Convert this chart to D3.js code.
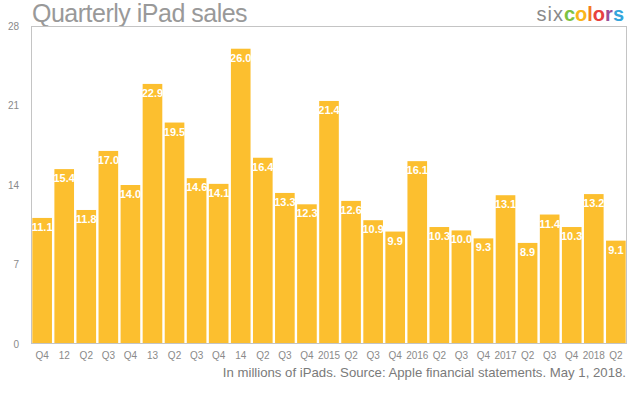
<!DOCTYPE html>
<html>
<head>
<meta charset="utf-8">
<script src="https://cdn.jsdelivr.net/npm/d3@7"></script>
<style>
  body { margin: 0; background: #fff; }
  svg { display: block; font-family: "Liberation Sans", Arial, sans-serif; }
</style>
</head>
<body>
<div id="chart"></div>
<script>
const width = 643;
const height = 397;

// Data
const quarters = ['Q4', '12', 'Q2', 'Q3', 'Q4', '13', 'Q2', 'Q3', 'Q4', '14', 'Q2', 'Q3', 'Q4', '2015',
  'Q2', 'Q3', 'Q4', '2016', 'Q2', 'Q3', 'Q4', '2017', 'Q2', 'Q3', 'Q4', '2018', 'Q2'];
const sales = [11.1, 15.4, 11.8, 17.0, 14.0, 22.9, 19.5, 14.6, 14.1, 26.0, 16.4, 13.3, 12.3, 21.4,
  12.6, 10.9, 9.9, 16.1, 10.3, 10.0, 9.3, 13.1, 8.9, 11.4, 10.3, 13.2, 9.1];
const yTicks = [0, 7, 14, 21, 28];
const logoLetters = ['c', 'o', 'l', 'o', 'r', 's'];
const logoColors = ['#7cc242', '#f9b61a', '#f47b20', '#e8403f', '#9b4f96', '#33a5dc'];

const margin = { top: 26, right: 16, bottom: 53, left: 31 };
const innerW = width - margin.left - margin.right;
const innerH = height - margin.top - margin.bottom;

const svg = d3.select('#chart').append('svg')
  .attr('width', width)
  .attr('height', height);

const data = quarters.map((q, i) => ({ i: i, label: q, value: sales[i] }));

const x = d3.scaleBand()
  .domain(data.map(d => d.i))
  .range([margin.left, margin.left + innerW])
  .paddingInner(0.11)
  .paddingOuter(0.06);

const y = d3.scaleLinear()
  .domain([0, 28])
  .range([margin.top + innerH, margin.top]);

// Title
svg.append('text')
  .attr('x', 32)
  .attr('y', 22)
  .attr('fill', '#999')
  .attr('font-size', 25)
  .attr('letter-spacing', -0.5)
  .text('Quarterly iPad sales');

// Logo
const logo = svg.append('text')
  .attr('x', 624)
  .attr('y', 21)
  .attr('text-anchor', 'end')
  .attr('font-size', 20);
logo.append('tspan')
  .attr('fill', '#8a8a8a')
  .attr('font-weight', 300)
  .attr('letter-spacing', 1)
  .text('six');
logoLetters.forEach((c, i) => {
  logo.append('tspan')
    .attr('fill', logoColors[i])
    .attr('font-weight', 'bold')
    .text(c);
});

// Bars
svg.append('g')
  .selectAll('rect')
  .data(data)
  .join('rect')
  .attr('x', d => x(d.i))
  .attr('y', d => y(d.value))
  .attr('width', x.bandwidth())
  .attr('height', d => y(0) - y(d.value))
  .attr('fill', '#fcbf2f');

// Value labels
svg.append('g')
  .selectAll('text')
  .data(data)
  .join('text')
  .attr('x', d => x(d.i) + x.bandwidth() / 2)
  .attr('y', d => y(d.value) + 13)
  .attr('text-anchor', 'middle')
  .attr('fill', '#fff')
  .attr('font-weight', 'bold')
  .attr('font-size', 11)
  .text(d => d.value.toFixed(1));

// Frame
svg.append('rect')
  .attr('x', margin.left + 0.5)
  .attr('y', margin.top + 0.5)
  .attr('width', innerW - 1)
  .attr('height', innerH - 1)
  .attr('fill', 'none')
  .attr('stroke', '#c4c4c4')
  .attr('stroke-width', 1);

// Y axis
const yAxis = svg.append('g')
  .attr('transform', `translate(${margin.left}, 0)`)
  .call(d3.axisLeft(y).tickValues(yTicks).tickSize(0).tickPadding(12));
yAxis.select('.domain').remove();
yAxis.selectAll('text')
  .attr('fill', '#8a8a8a')
  .attr('font-size', 10)
  .attr('font-family', '"Liberation Sans", Arial, sans-serif');

// X axis
const xAxis = svg.append('g')
  .attr('transform', `translate(0, ${margin.top + innerH})`)
  .call(d3.axisBottom(x).tickFormat(i => quarters[i]).tickSize(0).tickPadding(8));
xAxis.select('.domain').remove();
xAxis.selectAll('text')
  .attr('fill', '#8a8a8a')
  .attr('font-size', 10)
  .attr('font-family', '"Liberation Sans", Arial, sans-serif');

// Caption
svg.append('text')
  .attr('x', 626)
  .attr('y', 377)
  .attr('text-anchor', 'end')
  .attr('fill', '#7a7a7a')
  .attr('font-size', 13.2)
  .text('In millions of iPads. Source: Apple financial statements. May 1, 2018.');
</script>
</body>
</html>
